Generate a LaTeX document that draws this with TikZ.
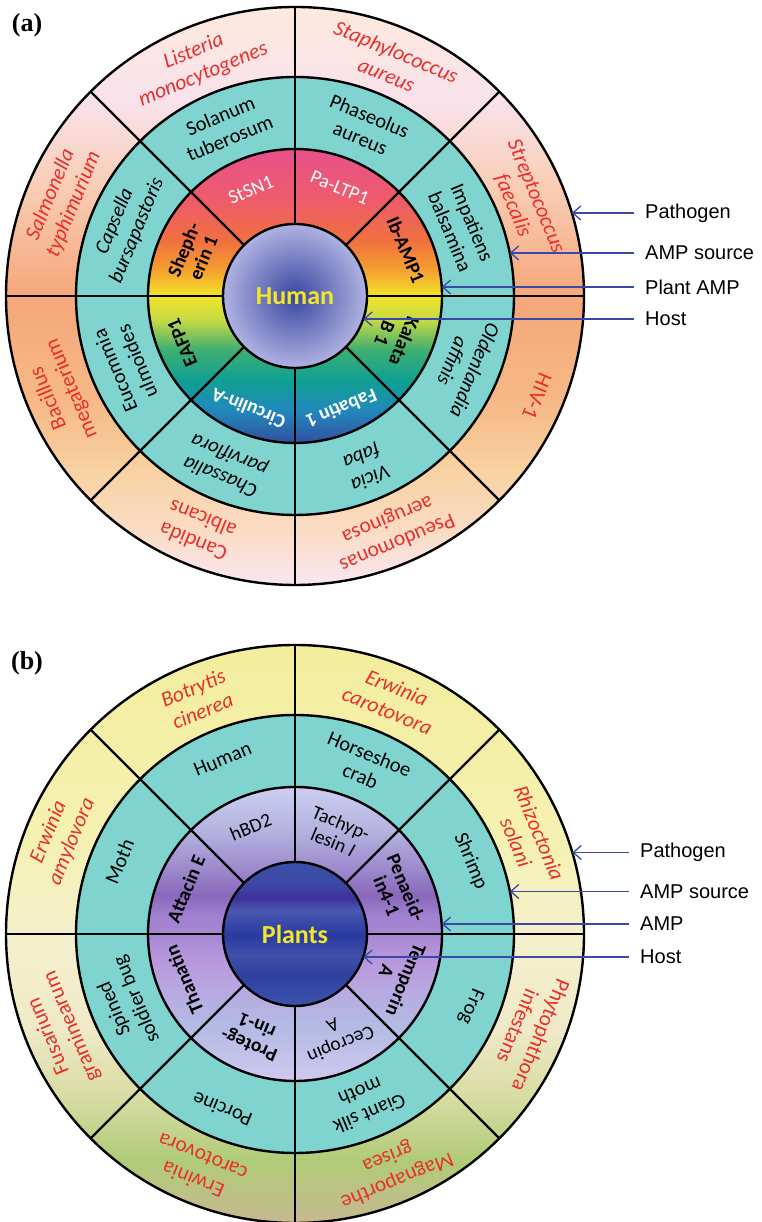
\documentclass[tikz,border=0pt]{standalone}
\usepackage{fontspec}
\setmainfont{Carlito}
\newfontfamily\legfont{Liberation Sans}
\newfontfamily\panelfont{Liberation Serif}
\usetikzlibrary{arrows.meta}

\definecolor{teal1}{HTML}{7FD4D0}
\definecolor{pathred}{HTML}{E8302C}
\definecolor{legblue}{HTML}{3A48A8}
\definecolor{hostyellow}{HTML}{F2E62A}
% pathogen ring (a)
\definecolor{pa0}{HTML}{FAE6F0}\definecolor{pa1}{HTML}{FADCC4}\definecolor{pa2}{HTML}{F8D2A2}
\definecolor{pa3}{HTML}{F6B886}\definecolor{pa4}{HTML}{F5A77A}\definecolor{pa5}{HTML}{F8CFB8}
\definecolor{pa6}{HTML}{F9E2EC}\definecolor{pa7}{HTML}{FDE9DD}
% amp ring (a)
\definecolor{aa0}{HTML}{3050A0}\definecolor{aa1}{HTML}{2288BC}\definecolor{aa2}{HTML}{10A092}
\definecolor{aa3}{HTML}{3EAE72}\definecolor{aa4}{HTML}{C4DA44}\definecolor{aa5}{HTML}{F2E42A}
\definecolor{aa6}{HTML}{F4A030}\definecolor{aa7}{HTML}{F07040}\definecolor{aa8}{HTML}{EE5C6A}
\definecolor{aa9}{HTML}{E8508C}
% host (a)
\definecolor{hin}{HTML}{3848A0}\definecolor{hout}{HTML}{B0B2E2}
% pathogen ring (b)
\definecolor{pb0}{HTML}{C8B890}\definecolor{pb1}{HTML}{AFCB78}\definecolor{pb2}{HTML}{D6DBA0}
\definecolor{pb3}{HTML}{EFE9C8}\definecolor{pb4}{HTML}{F5F0CC}\definecolor{pb5}{HTML}{F5F1B4}
\definecolor{pb6}{HTML}{F3EE9C}
% amp ring (b)
\definecolor{ab0}{HTML}{D0C8F0}\definecolor{ab1}{HTML}{B4BCE4}\definecolor{ab2}{HTML}{B8A8E0}
\definecolor{ab3}{HTML}{B898DC}\definecolor{ab4}{HTML}{A888D4}\definecolor{ab5}{HTML}{A080D0}
\definecolor{ab6}{HTML}{8A68BC}\definecolor{ab7}{HTML}{9C88CC}\definecolor{ab8}{HTML}{B4B4E0}
\definecolor{ab9}{HTML}{CCCEF0}
% host (b)
\definecolor{hb0}{HTML}{3C54AC}\definecolor{hb1}{HTML}{3040A0}\definecolor{hb2}{HTML}{4050A8}
\definecolor{hb3}{HTML}{2A3AA0}\definecolor{hb4}{HTML}{4858B0}\definecolor{hb5}{HTML}{40309A}
\definecolor{hb6}{HTML}{3C48A4}\definecolor{hb7}{HTML}{3A50A8}

\pgfdeclareverticalshading{pathA}{100bp}{color(0bp)=(pa0); color(25bp)=(pa0); color(29.8bp)=(pa1);
 color(34.9bp)=(pa2); color(41bp)=(pa3); color(50bp)=(pa4); color(60bp)=(pa5); color(67bp)=(pa6);
 color(75bp)=(pa7); color(100bp)=(pa7)}
\pgfdeclareverticalshading{ampA}{100bp}{color(0bp)=(aa0); color(25bp)=(aa0); color(30.6bp)=(aa1);
 color(35.7bp)=(aa2); color(40.8bp)=(aa3); color(45.9bp)=(aa4); color(50bp)=(aa5); color(54.4bp)=(aa6);
 color(59.5bp)=(aa7); color(66.3bp)=(aa8); color(75bp)=(aa9); color(100bp)=(aa9)}
\pgfdeclareverticalshading{pathB}{100bp}{color(0bp)=(pb0); color(25bp)=(pb0); color(30.4bp)=(pb1);
 color(35.6bp)=(pb2); color(41.7bp)=(pb3); color(49.9bp)=(pb4); color(57.3bp)=(pb5);
 color(75bp)=(pb6); color(100bp)=(pb6)}
\pgfdeclareverticalshading{ampB}{100bp}{color(0bp)=(ab0); color(25bp)=(ab0); color(33.7bp)=(ab1);
 color(40.5bp)=(ab2); color(45.6bp)=(ab3); color(49.8bp)=(ab4); color(53.2bp)=(ab5); color(56.6bp)=(ab6);
 color(60.9bp)=(ab7); color(67.7bp)=(ab8); color(75bp)=(ab9); color(100bp)=(ab9)}
\pgfdeclareverticalshading{hostB}{100bp}{color(0bp)=(hb0); color(25bp)=(hb0); color(35.8bp)=(hb1);
 color(42.7bp)=(hb2); color(49.6bp)=(hb3); color(58.3bp)=(hb4); color(62.5bp)=(hb5); color(67bp)=(hb6);
 color(75bp)=(hb7); color(100bp)=(hb7)}

\newcommand{\ringbase}[3]{%
  \shade[shading=#1] (0,0) circle (289pt);
  \fill[teal1] (0,0) circle (219pt);
  \shade[shading=#2] (0,0) circle (147pt);
  \shade[#3] (0,0) circle (72pt);
  \foreach \a in {0,45,...,315} \draw[divider] (\a:72pt) -- (\a:289pt);
  \foreach \r in {72,147,219,289} \draw[divider] (0,0) circle (\r pt);
}

\tikzset{
  divider/.style={line width=2.4pt, draw=black},
  pathlab/.style={font=\fontsize{21.5}{25}\selectfont, text=pathred, align=center, inner sep=0pt},
  pathlabit/.style={pathlab, font=\fontsize{21.5}{25}\selectfont\itshape},
  srclab/.style={font=\fontsize{20.5}{24}\selectfont, align=center, inner sep=0pt},
  srclabit/.style={srclab, font=\fontsize{20.5}{24}\selectfont\itshape},
  amplab/.style={font=\fontsize{19.5}{21}\selectfont, align=center, inner sep=0pt},
  ampbold/.style={amplab, font=\fontsize{19.5}{21}\selectfont\bfseries},
  centerlab/.style={font=\fontsize{26}{28}\selectfont\bfseries, text=hostyellow},
  legtext/.style={font=\legfont\fontsize{20}{22}\selectfont, anchor=west, inner sep=0pt},
  legarrow/.style={draw=legblue, line width=1.3pt, shorten <=11pt, -{Straight Barb[length=8pt,width=14pt]}},
  panellab/.style={font=\panelfont\bfseries\fontsize{26}{28}\selectfont, inner sep=0pt},
}

\begin{document}
\begin{tikzpicture}[x=1pt,y=1pt]
\useasboundingbox (0,0) rectangle (762,1222);

% ---------------- (a) ----------------
\node[panellab] (pa) at (27,1197) {(a)};
\begin{scope}[shift={(295,926)}]
  \ringbase{pathA}{ampA}{inner color=hin, outer color=hout}
  \node[centerlab] (a-host) at (0,0) {Human};
  % pathogens
  \node[pathlabit, rotate=22.5]   (a-p1) at (112.5:252pt) {Listeria\\monocytogenes};
  \node[pathlabit, rotate=-22.5]  (a-p2) at (67.5:252pt) {Staphylococcus\\aureus};
  \node[pathlabit, rotate=-67.5]  (a-p3) at (22.5:248pt) {Streptococcus\\faecalis};
  \node[pathlab, rotate=-112.5]   (a-p4) at (-22.5:262pt) {HIV-1};
  \node[pathlab, rotate=-157.5]   (a-p5) at (-67.5:254pt) {Pseudomonas\\aeruginosa};
  \node[pathlab, rotate=157.5]    (a-p6) at (-112.5:254pt) {Candida\\albicans};
  \node[pathlab, rotate=112.5]    (a-p7) at (-157.5:254pt) {Bacillus\\megaterium};
  \node[pathlabit, rotate=67.5]   (a-p8) at (157.5:252pt) {Salmonella\\typhimurium};
  % sources
  \node[srclab, rotate=22.5]      (a-s1) at (112.5:183pt) {Solanum\\tuberosum};
  \node[srclab, rotate=-22.5]     (a-s2) at (67.5:183pt) {Phaseolus\\aureus};
  \node[srclab, rotate=-67.5]     (a-s3) at (22.5:180pt) {Impatiens\\balsamina};
  \node[srclabit, rotate=-112.5]  (a-s4) at (-22.5:183pt) {Oldenlandia\\affinis};
  \node[srclabit, rotate=-157.5]  (a-s5) at (-67.5:185pt) {Vicia\\faba};
  \node[srclabit, rotate=157.5]   (a-s6) at (-112.5:183pt) {Chassalia\\parviflora};
  \node[srclab, rotate=112.5]     (a-s7) at (-157.5:183pt) {Eucommia\\ulmoides};
  \node[srclabit, rotate=67.5]    (a-s8) at (157.5:183pt) {Capsella\\bursapastoris};
  % AMPs
  \node[amplab, text=white, rotate=22.5]   (a-a1) at (112.5:115pt) {StSN1};
  \node[amplab, text=white, rotate=-22.5]  (a-a2) at (67.5:117pt) {Pa-LTP1};
  \node[ampbold, rotate=-67.5]             (a-a3) at (22.5:120pt) {Ib-AMP1};
  \node[ampbold, rotate=-112.5]            (a-a4) at (-22.5:108pt) {Kalata\\B 1};
  \node[ampbold, text=white, rotate=-157.5](a-a5) at (-67.5:122pt) {Fabatin 1};
  \node[ampbold, text=white, rotate=157.5] (a-a6) at (-112.5:122pt) {Circulin-A};
  \node[ampbold, rotate=112.5]             (a-a7) at (-157.5:122pt) {EAFP1};
  \node[ampbold, rotate=67.5]              (a-a8) at (157.5:110pt) {Sheph-\\erin 1};
\end{scope}
% legend (a)
\node[legtext] (a-lp) at (645,1009) {Pathogen};
\node[legtext] (a-ls) at (645,969) {AMP source};
\node[legtext] (a-la) at (645,935) {Plant AMP};
\node[legtext] (a-lh) at (645,903) {Host};
\coordinate (a-tp) at (571.8,1009);
\coordinate (a-ts) at (509.7,969);
\coordinate (a-ta) at (441.7,935);
\coordinate (a-th) at (363.2,903);
\draw[legarrow] (a-lp.west) -- (a-tp);
\draw[legarrow] (a-ls.west) -- (a-ts);
\draw[legarrow] (a-la.west) -- (a-ta);
\draw[legarrow] (a-lh.west) -- (a-th);

% ---------------- (b) ----------------
\node[panellab] (pb) at (27,559) {(b)};
\begin{scope}[shift={(295,288)}]
  \ringbase{pathB}{ampB}{shading=hostB}
  \node[centerlab] (b-host) at (0,0) {Plants};
  % pathogens
  \node[pathlabit, rotate=22.5]   (b-p1) at (112.5:254pt) {Botrytis\\cinerea};
  \node[pathlabit, rotate=-22.5]  (b-p2) at (67.5:254pt) {Erwinia\\carotovora};
  \node[pathlabit, rotate=-67.5]  (b-p3) at (22.5:252pt) {Rhizoctonia\\solani};
  \node[pathlab, rotate=-112.5]   (b-p4) at (-22.5:254pt) {Phytophthora\\infestans};
  \node[pathlab, rotate=-157.5]   (b-p5) at (-67.5:254pt) {Magnaporthe\\grisea};
  \node[pathlab, rotate=157.5]    (b-p6) at (-112.5:254pt) {Erwinia\\carotovora};
  \node[pathlab, rotate=112.5]    (b-p7) at (-157.5:254pt) {Fusarium\\graminearum};
  \node[pathlabit, rotate=67.5]   (b-p8) at (157.5:254pt) {Erwinia\\amylovora};
  % sources
  \node[srclab, rotate=22.5]      (b-s1) at (112.5:189pt) {Human};
  \node[srclab, rotate=-22.5]     (b-s2) at (67.5:183pt) {Horseshoe\\crab};
  \node[srclab, rotate=-67.5]     (b-s3) at (22.5:190pt) {Shrimp};
  \node[srclab, rotate=-112.5]    (b-s4) at (-22.5:190pt) {Frog};
  \node[srclab, rotate=-157.5]    (b-s5) at (-67.5:183pt) {Giant silk\\moth};
  \node[srclab, rotate=157.5]     (b-s6) at (-112.5:190pt) {Porcine};
  \node[srclab, rotate=112.5]     (b-s7) at (-157.5:183pt) {Spined\\soldier bug};
  \node[srclab, rotate=67.5]      (b-s8) at (157.5:190pt) {Moth};
  % AMPs
  \node[amplab, rotate=22.5]      (b-a1) at (112.5:116pt) {hBD2};
  \node[amplab, rotate=-22.5]     (b-a2) at (67.5:110pt) {Tachyp-\\lesin \textit{I}};
  \node[ampbold, rotate=-67.5]    (b-a3) at (22.5:110pt) {Penaeid-\\in4-1};
  \node[ampbold, rotate=-112.5]   (b-a4) at (-22.5:110pt) {Temporin\\A};
  \node[amplab, rotate=-157.5]    (b-a5) at (-67.5:110pt) {Cecropin\\A};
  \node[ampbold, rotate=157.5]    (b-a6) at (-112.5:110pt) {Proteg-\\rin-1};
  \node[ampbold, rotate=112.5]    (b-a7) at (-157.5:120pt) {Thanatin};
  \node[ampbold, rotate=67.5]     (b-a8) at (157.5:118pt) {Attacin E};
\end{scope}
% legend (b)
\node[legtext] (b-lp) at (640,369.5) {Pathogen};
\node[legtext] (b-ls) at (640,330.5) {AMP source};
\node[legtext] (b-la) at (640,298) {AMP};
\node[legtext] (b-lh) at (640,265) {Host};
\coordinate (b-tp) at (572.3,369.5);
\coordinate (b-ts) at (509.8,330.5);
\coordinate (b-ta) at (441.7,298);
\coordinate (b-th) at (363.2,265);
\draw[legarrow] (b-lp.west) -- (b-tp);
\draw[legarrow] (b-ls.west) -- (b-ts);
\draw[legarrow] (b-la.west) -- (b-ta);
\draw[legarrow] (b-lh.west) -- (b-th);
\end{tikzpicture}
\end{document}
